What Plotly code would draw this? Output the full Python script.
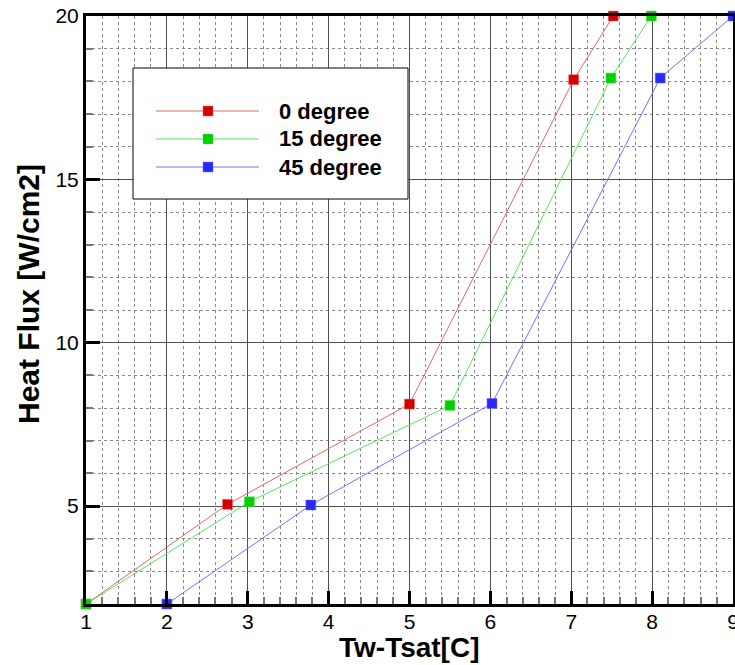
import plotly.graph_objects as go

# ---- data ----
series_names = ["0 degree", "15 degree", "45 degree"]
x_0deg = [1.0, 2.75, 5.0, 7.03, 7.52]
y_0deg = [2.0, 5.05, 8.12, 18.05, 20.0]
x_15deg = [1.0, 3.02, 5.5, 7.49, 7.99]
y_15deg = [2.0, 5.13, 8.08, 18.1, 20.0]
x_45deg = [2.0, 3.78, 6.02, 8.1, 9.0]
y_45deg = [2.0, 5.03, 8.14, 18.1, 20.0]

marker_colors = ["#d40000", "#00d000", "#2828ff"]
line_colors = ["#e06a6a", "#5ee05e", "#7272ff"]

xs = [x_0deg, x_15deg, x_45deg]
ys = [y_0deg, y_15deg, y_45deg]

FONT = "Liberation Sans, Arial, sans-serif"

fig = go.Figure()
for name, x, y, mc, lc in zip(series_names, xs, ys, marker_colors, line_colors):
    fig.add_trace(go.Scatter(
        x=x, y=y, name=name, mode="lines+markers",
        line=dict(color=lc, width=1),
        marker=dict(symbol="square", size=10, color=mc,
                    line=dict(color=lc, width=0.5)),
        cliponaxis=False, showlegend=False,
    ))

# plot area in page pixels
L, W, T, H = 86, 647, 16, 588
def px(xp):
    return (xp - L) / W
def py(yp):
    return (T + H - yp) / H

shapes = [dict(type="rect", xref="paper", yref="paper",
               x0=px(133), x1=px(408), y0=py(199), y1=py(68),
               line=dict(color="black", width=1), fillcolor="white", layer="above")]
annotations = []
for i, (name, mc, lc) in enumerate(zip(series_names, marker_colors, line_colors)):
    yy = py(111 + 28 * i)
    shapes.append(dict(type="line", xref="paper", yref="paper",
                       x0=px(156), x1=px(259), y0=yy, y1=yy,
                       line=dict(color=lc, width=1), layer="above"))
    shapes.append(dict(type="rect", xref="paper", yref="paper",
                       xsizemode="pixel", ysizemode="pixel",
                       xanchor=px(208), yanchor=yy,
                       x0=-5, x1=5, y0=-5, y1=5,
                       line=dict(color=lc, width=0.5), fillcolor=mc, layer="above"))
    annotations.append(dict(xref="paper", yref="paper", x=px(277), y=yy,
                            xanchor="left", yanchor="middle", showarrow=False,
                            text="<b>%s</b>" % name,
                            font=dict(family=FONT, size=22, color="black")))

# axis titles
annotations.append(dict(xref="paper", yref="paper", x=px(409), y=py(647),
                        xanchor="center", yanchor="middle", showarrow=False,
                        text="<b>Tw-Tsat[C]</b>",
                        font=dict(family=FONT, size=28, color="black")))
annotations.append(dict(xref="paper", yref="paper", x=px(28), y=py(294),
                        xanchor="center", yanchor="middle", showarrow=False,
                        textangle=-90,
                        text="<b>Heat Flux [W/cm2]</b>",
                        font=dict(family=FONT, size=30, color="black")))

FW, FH = 735, 665
fig.update_layout(
    width=FW, height=FH,
    margin=dict(l=L, r=FW - L - W, t=T, b=FH - T - H),
    paper_bgcolor="white", plot_bgcolor="white",
    font=dict(family=FONT, color="black"),
    shapes=shapes, annotations=annotations,
    showlegend=False,
)

fig.update_xaxes(
    range=[1, 9], tick0=1, dtick=1,
    showline=True, linecolor="black", linewidth=3, mirror=True,
    ticks="inside", ticklen=13, tickwidth=3, tickcolor="black",
    showgrid=True, gridcolor="#505050", gridwidth=1,
    zeroline=False,
    tickfont=dict(family=FONT, size=21, color="black"),
    ticklabelstandoff=-3, ticklabeloverflow="allow",
    minor=dict(dtick=0.2, tick0=1, showgrid=True, gridcolor="#888888", griddash="dot", gridwidth=1,
               ticks="inside", ticklen=7, tickwidth=2, tickcolor="#777777"),
    automargin=False, layer="above traces",
)
fig.update_yaxes(
    range=[2, 20], tick0=0, dtick=5,
    showline=True, linecolor="black", linewidth=3, mirror=True,
    ticks="inside", ticklen=14, tickwidth=3, tickcolor="black",
    showgrid=True, gridcolor="#505050", gridwidth=1,
    zeroline=False,
    tickfont=dict(family=FONT, size=21, color="black"),
    ticklabeloverflow="allow",
    minor=dict(dtick=1, tick0=0, showgrid=True, gridcolor="#888888", griddash="dot", gridwidth=1,
               ticks="inside", ticklen=7, tickwidth=2, tickcolor="#777777"),
    automargin=False, layer="above traces",
)

fig.write_html(
    "out.html",
    config={"displayModeBar": False},
    post_script="document.body.style.margin='0';document.body.style.overflow='hidden';window.scrollTo(0,0);",
)
